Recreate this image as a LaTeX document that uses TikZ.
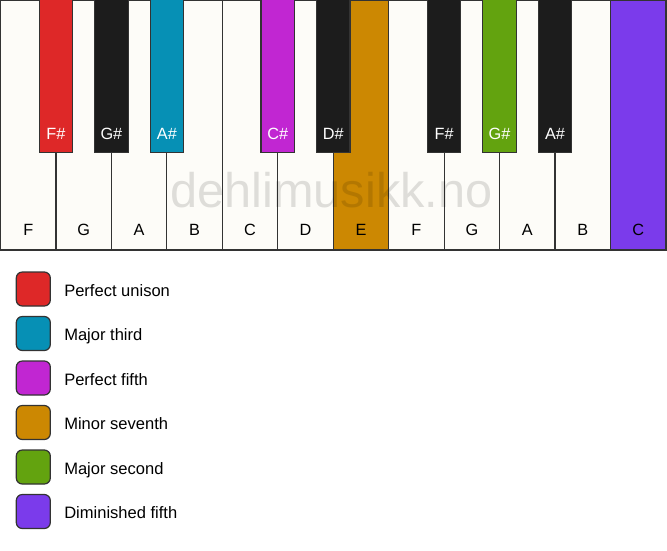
\documentclass[tikz,border=0pt]{standalone}
\usepackage{fontspec}
\setmainfont{Liberation Sans}
\definecolor{keywhite}{HTML}{FDFCF8}
\definecolor{keyblack}{HTML}{1C1C1C}
\definecolor{keyborder}{HTML}{333333}
\definecolor{cred}{HTML}{DE2828}
\definecolor{cblue}{HTML}{0690B5}
\definecolor{cmag}{HTML}{C126D2}
\definecolor{corange}{HTML}{CC8802}
\definecolor{cgreen}{HTML}{63A30F}
\definecolor{cviolet}{HTML}{7B3BEB}
\tikzset{
  whitekey/.style={draw=keyborder, line width=0.9pt, fill=keywhite, rectangle, inner sep=0pt, outer sep=0pt, minimum width=41.59pt, minimum height=187.5pt},
  blackkey/.style={draw=keyborder, line width=0.9pt, fill=keyblack, rectangle, inner sep=0pt, outer sep=0pt, minimum width=25.1pt, minimum height=114.4pt},
  keylabel/.style={inner sep=0pt, anchor=base, font=\fontsize{12.2pt}{14pt}\selectfont, text=black},
  blacklabel/.style={keylabel, text=white},
  swatch/.style={draw=keyborder, line width=0.9pt, rectangle, rounded corners=4.5pt, inner sep=0pt, minimum size=25.5pt},
  legendtext/.style={inner sep=0pt, anchor=base west, font=\fontsize{12.4pt}{14pt}\selectfont, text=black},
  watermark/.style={inner sep=0pt, anchor=base, font=\fontsize{36.5pt}{40pt}\selectfont, text=black, text opacity=0.12}
}
\begin{document}
\begin{tikzpicture}[x=0.75pt,y=-0.75pt]
\useasboundingbox (0,0) rectangle (667,550);
\fill[white] (0,0) rectangle (667,550);
% white keys
\foreach \i/\n/\c in {0/F/keywhite,1/G/keywhite,2/A/keywhite,3/B/keywhite,4/C/keywhite,5/D/keywhite,6/E/corange,7/F/keywhite,8/G/keywhite,9/A/keywhite,10/B/keywhite,11/C/cviolet}{
  \node[whitekey, fill=\c] (w\i) at ({0.5+55.45*\i+27.725},125) {};
  \node[keylabel] (lw\i) at ({0.5+55.45*\i+27.725},235.5) {\n};
}
% black keys
\foreach \k/\n/\c in {0/F\#/cred,1/G\#/keyblack,2/A\#/cblue,4/C\#/cmag,5/D\#/keyblack,7/F\#/keyblack,8/G\#/cgreen,9/A\#/keyblack}{
  \node[blackkey, fill=\c] (b\k) at ({0.5+55.45*(\k+1)},76) {};
  \node[blacklabel] (lb\k) at ({0.5+55.45*(\k+1)},139) {\n};
}
% watermark
\node[watermark] (wm) at (331.5,207.5) {dehlimusikk.no};
% legend
\foreach \j/\c/\t in {0/cred/Perfect unison,1/cblue/Major third,2/cmag/Perfect fifth,3/corange/Minor seventh,4/cgreen/Major second,5/cviolet/Diminished fifth}{
  \node[swatch, fill=\c] (s\j) at (33.3,{289+44.5*\j}) {};
  \node[legendtext] (t\j) at (64,{296+44.5*\j}) {\t};
}
\end{tikzpicture}
\end{document}
